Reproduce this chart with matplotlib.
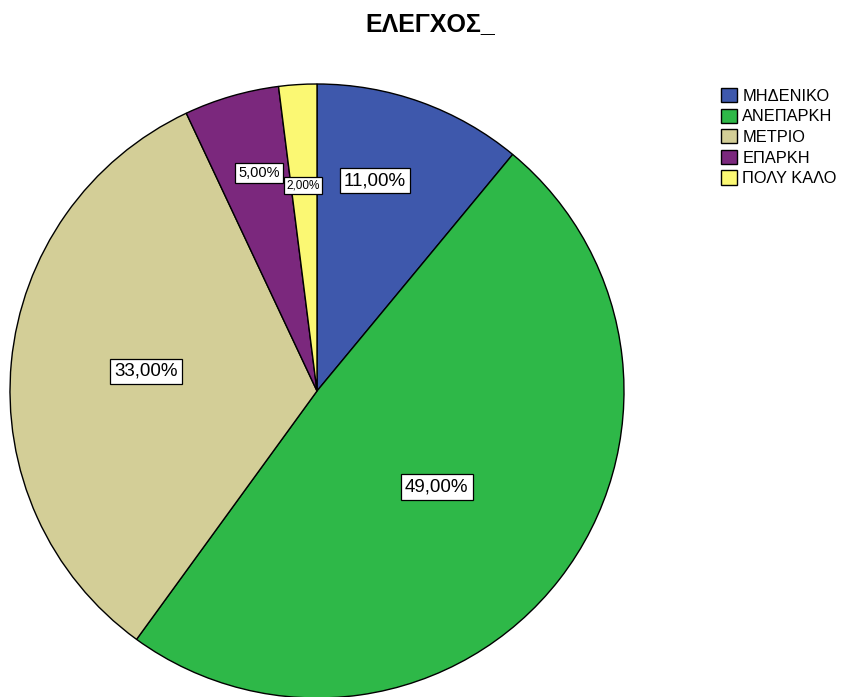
import numpy as np
import matplotlib
matplotlib.use("Agg")
import matplotlib.pyplot as plt

plt.rcParams['font.family'] = ['Liberation Sans', 'DejaVu Sans']

title = "ΕΛΕΓΧΟΣ_"
categories = ["ΜΗΔΕΝΙΚΟ", "ΑΝΕΠΑΡΚΗ", "ΜΕΤΡΙΟ", "ΕΠΑΡΚΗ", "ΠΟΛΥ ΚΑΛΟ"]
values = [11.0, 49.0, 33.0, 5.0, 2.0]
colors = ["#3E58AC", "#2EB848", "#D3CE97", "#7B287D", "#FBF873"]
label_radius = [0.71, 0.50, 0.56, 0.735, 0.67]
label_angle_shift = [4.4, -0.9, -1.2, -1.3, 0.3]
label_size = [13.5, 13.5, 13.5, 10.5, 8.5]

W, H = 846, 697
fig = plt.figure(figsize=(W / 100, H / 100), dpi=100)
cx, cy, r = 317, 391, 307
ax = fig.add_axes([(cx - r) / W, (H - cy - r) / H, 2 * r / W, 2 * r / H])

wedges, _ = ax.pie(values, colors=colors, startangle=90, counterclock=False, radius=1,
                   wedgeprops=dict(edgecolor='black', linewidth=1.0))
ax.set_xlim(-1, 1)
ax.set_ylim(-1, 1)
ax.set_aspect('equal')
ax.axis('off')

total = sum(values)
cum = 0
for v, rad, da, fs in zip(values, label_radius, label_angle_shift, label_size):
    mid = 90 - (cum + v / 2) / total * 360 + da
    cum += v
    x = rad * np.cos(np.radians(mid))
    y = rad * np.sin(np.radians(mid))
    ax.text(x, y, f"{v:.2f}%".replace('.', ','), ha='center', va='center', fontsize=fs,
            bbox=dict(boxstyle='square,pad=0.22', facecolor='white', edgecolor='black', linewidth=0.9))

fig.text(430 / W, 1 - 24 / H, title, ha='center', va='center', fontsize=18, fontweight='bold')

fig.legend(wedges, categories, loc='upper left', bbox_to_anchor=(721 / W, 1 - 88 / H),
           frameon=False, fontsize=11.8, handlelength=0.95, handleheight=0.95,
           handletextpad=0.35, labelspacing=0.3, borderaxespad=0, borderpad=0)

fig.savefig("out.png", dpi=100)
